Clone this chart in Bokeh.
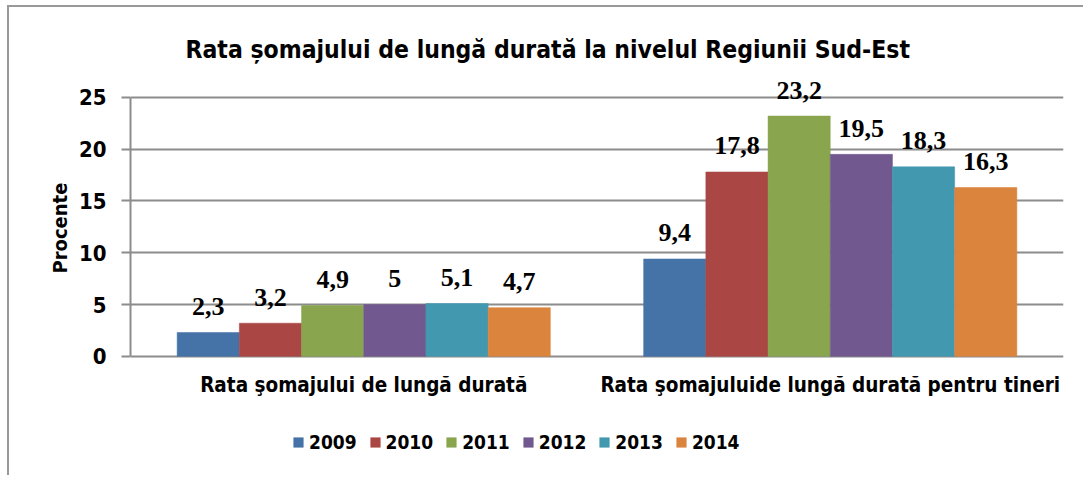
from bokeh.plotting import figure
from bokeh.models import (ColumnDataSource, FactorRange, Range1d, FixedTicker, Legend,
                          LegendItem, Title)
from bokeh.transform import dodge
from bokeh.core.properties import value
from bokeh.embed import file_html
from bokeh.resources import INLINE

categories = ["Rata şomajului de lungă durată", "Rata şomajuluide lungă durată pentru tineri"]
years = ["2009", "2010", "2011", "2012", "2013", "2014"]
values = {
    "2009": [2.3, 9.4],
    "2010": [3.2, 17.8],
    "2011": [4.9, 23.2],
    "2012": [5.0, 19.5],
    "2013": [5.1, 18.3],
    "2014": [4.7, 16.3],
}
labels = {
    "2009": ["2,3", "9,4"],
    "2010": ["3,2", "17,8"],
    "2011": ["4,9", "23,2"],
    "2012": ["5", "19,5"],
    "2013": ["5,1", "18,3"],
    "2014": ["4,7", "16,3"],
}
colors = ["#4572A7", "#AA4643", "#89A54E", "#71588F", "#4198AF", "#DB843D"]
y_ticks = [0, 5, 10, 15, 20, 25]

NARROW = "DejaVu Sans Condensed"
SERIF = "Liberation Serif"
GRAY = "#8c8c8c"

p = figure(x_range=FactorRange(factors=categories), y_range=Range1d(-11.7, 27.5),
           width=1076, height=470, output_backend="svg", toolbar_location=None,
           x_axis_location=None,
           min_border_left=121, min_border_right=22, min_border_top=64, min_border_bottom=0)
p.styles = {"border-left": "2px solid #999999", "border-top": "2px solid #999999",
            "margin-left": "7px", "margin-top": "5px"}
p.outline_line_color = None
p.background_fill_color = "white"
p.border_fill_color = "white"

p.title.text = "Rata șomajului de lungă durată la nivelul Regiunii Sud-Est"
p.title.align = "left"
p.title.offset = 55
p.title.standoff = 15
p.title.text_font = NARROW
p.title.text_font_style = "bold"
p.title.text_font_size = "24.5px"
p.title.text_color = "black"

bw = 0.8 / len(years)
items = []
for i, yr in enumerate(years):
    off = (i - (len(years) - 1) / 2) * bw
    src = ColumnDataSource(dict(cat=categories, val=values[yr], lab=labels[yr]))
    r = p.vbar(x=dodge("cat", off, range=p.x_range), top="val", width=bw, source=src,
               fill_color=colors[i], line_color=colors[i], line_width=0.5)
    p.text(x=dodge("cat", off, range=p.x_range), y="val", text="lab", source=src,
           text_align="center", text_baseline="alphabetic", y_offset=-26,
           text_font=value(SERIF), text_font_style="bold", text_font_size="26px",
           text_color="black")
    items.append(LegendItem(label=yr, renderers=[r]))

# category labels under the baseline
cat_src = ColumnDataSource(dict(cat=categories, zero=[0] * len(categories)))
p.text(x="cat", y="zero", text="cat", source=cat_src, text_align="center",
       text_baseline="middle", y_offset=29, text_font=value(NARROW),
       text_font_style="bold", text_font_size="20.5px", text_color="black")

legend = Legend(items=items, orientation="horizontal", location=(162, 24),
                glyph_width=12, glyph_height=12, label_standoff=5, spacing=12,
                padding=0, margin=0, border_line_color=None, background_fill_alpha=0,
                label_text_font=NARROW, label_text_font_style="bold",
                label_text_font_size="19px", label_text_color="black")
p.add_layout(legend, "center")

# y axis
p.yaxis.ticker = FixedTicker(ticks=y_ticks)
p.yaxis.bounds = (0, 25)
p.yaxis.minor_tick_line_color = None
p.yaxis.major_tick_out = 9
p.yaxis.major_tick_in = 0
p.yaxis.major_tick_line_color = GRAY
p.yaxis.major_tick_line_width = 2
p.yaxis.axis_line_color = GRAY
p.yaxis.axis_line_width = 2
p.yaxis.major_label_standoff = 15
p.yaxis.major_label_text_font = NARROW
p.yaxis.major_label_text_font_style = "bold"
p.yaxis.major_label_text_font_size = "22px"
p.yaxis.major_label_text_color = "black"

p.add_layout(Title(text="Procente", align="left", offset=204, standoff=8,
                   text_font=NARROW, text_font_style="bold", text_font_size="20px",
                   text_color="black"), "left")

p.xgrid.grid_line_color = None
p.ygrid.ticker = FixedTicker(ticks=y_ticks)
p.ygrid.grid_line_color = GRAY
p.ygrid.grid_line_width = 2

open("out.html", "w").write(file_html(p, INLINE))
